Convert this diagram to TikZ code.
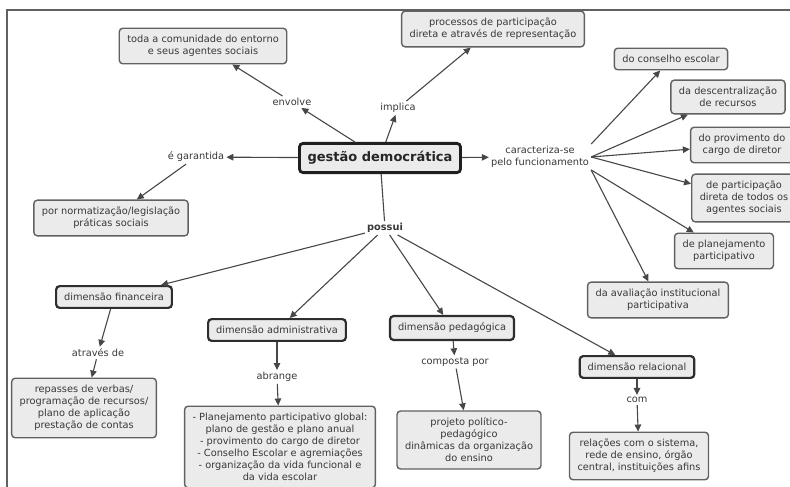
\documentclass[tikz,border=0pt]{standalone}
\usepackage{fontspec}
\setmainfont{DejaVu Sans}
\usetikzlibrary{arrows.meta}

\begin{document}
\begin{tikzpicture}[x=1pt,y=-1pt,
  conceito/.style={draw=black!62, fill=black!8, line width=1.4pt, rounded corners=3.5pt,
    align=center, inner xsep=8pt, inner ysep=7pt, text=black!78,
    font=\fontsize{9.8}{12}\selectfont},
  dimensao/.style={conceito, draw=black!82, line width=2.2pt},
  ligacao/.style={align=center, inner sep=2pt, text=black!78,
    font=\fontsize{9.8}{12}\selectfont},
  seta/.style={draw=black!72, line width=1.1pt, -{Triangle[length=7pt,width=6.5pt]}},
  linha/.style={draw=black!72, line width=1.1pt}
]
\useasboundingbox (0,0) rectangle (790,487);
 \draw[line width=2.5pt, black!62] (790,10) -- (7,10) -- (7,487);

% conceito central
 \node[conceito, draw=black!88, line width=2.8pt, inner ysep=8pt,
   font=\fontsize{13}{15}\selectfont\bfseries, text=black!85] (gestao) at (380,158) {gestão democrática};

% frases de ligacao
 \node[ligacao] (envolve) at (292,102) {envolve};
 \node[ligacao] (implica) at (398,108) {implica};
 \node[ligacao] (garantida) at (196,157) {é garantida};
 \node[ligacao] (caracteriza) at (540,157) {caracteriza-se\\pelo funcionamento};
 \node[ligacao, font=\fontsize{9.8}{12}\selectfont\bfseries] (possui) at (385,228) {possui};
 \node[ligacao] (atraves) at (98,353) {através de};
 \node[ligacao] (abrange) at (277,377) {abrange};
 \node[ligacao] (composta) at (455,362) {composta por};
 \node[ligacao] (com) at (637,400) {com};

% conceitos
 \node[conceito] (comunidade) at (203,46) {toda a comunidade do entorno\\e seus agentes sociais};
 \node[conceito] (processos) at (493,29) {processos de participação\\direta e através de representação};
 \node[conceito] (normatizacao) at (111,218) {por normatização/legislação\\práticas sociais};
 \node[conceito] (conselho) at (671,59) {do conselho escolar};
 \node[conceito] (descentral) at (728,97) {da descentralização\\de recursos};
 \node[conceito] (provimento) at (742,145) {do provimento do\\cargo de diretor};
 \node[conceito] (participacao) at (744,198) {de participação\\direta de todos os\\agentes sociais};
 \node[conceito] (planejamento) at (724,251) {de planejamento\\participativo};
 \node[conceito] (avaliacao) at (658,300) {da avaliação institucional\\participativa};
 \node[dimensao] (financeira) at (114,297) {dimensão financeira};
 \node[dimensao] (administrativa) at (277,330) {dimensão administrativa};
 \node[dimensao] (pedagogica) at (452,328) {dimensão pedagógica};
 \node[dimensao] (relacional) at (637,367) {dimensão relacional};
 \node[conceito] (repasses) at (84,408) {repasses de verbas/\\programação de recursos/\\plano de aplicação\\prestação de contas};
 \node[conceito] (planoadm) at (280,447) {- Planejamento participativo global:\\plano de gestão e plano anual\\- provimento do cargo de diretor\\- Conselho Escolar e agremiações\\- organização da vida funcional e\\da vida escolar};
 \node[conceito] (projeto) at (469,440) {projeto político-\\pedagógico\\dinâmicas da organização\\do ensino};
 \node[conceito] (relacoes) at (639,456) {relações com o sistema,\\rede de ensino, órgão\\central, instituições afins};

% ligacoes
 \draw[seta] (gestao) -- (envolve);
 \draw[seta] (envolve) -- (comunidade);
 \draw[seta] (gestao) -- (implica);
 \draw[seta] (implica) -- (processos);
 \draw[seta] (gestao) -- (garantida);
 \draw[seta] (garantida) -- (normatizacao);
 \draw[seta] (gestao) -- (caracteriza);
 \draw[seta] (caracteriza.north east) -- (conselho);
 \draw[seta] (caracteriza.east) -- (descentral);
 \draw[seta] (caracteriza.east) -- (provimento);
 \draw[seta] (caracteriza.east) -- (participacao);
 \draw[seta] (caracteriza.south east) -- (planejamento);
 \draw[seta] (caracteriza.south east) -- (avaliacao);
 \draw[linha] (gestao) -- (possui);
 \draw[seta] (possui) -- (financeira);
 \draw[seta] (possui) -- (administrativa);
 \draw[seta] (possui) -- (pedagogica);
 \draw[seta] (possui) -- (relacional);
 \draw[seta] (financeira) -- (atraves);
 \draw[seta] (atraves) -- (repasses);
 \draw[seta] (administrativa) -- (abrange);
 \draw[seta] (abrange) -- (planoadm);
 \draw[seta] (pedagogica) -- (composta);
 \draw[seta] (composta) -- (projeto);
 \draw[seta] (relacional) -- (com);
 \draw[seta] (com) -- (relacoes);
\end{tikzpicture}
\end{document}
